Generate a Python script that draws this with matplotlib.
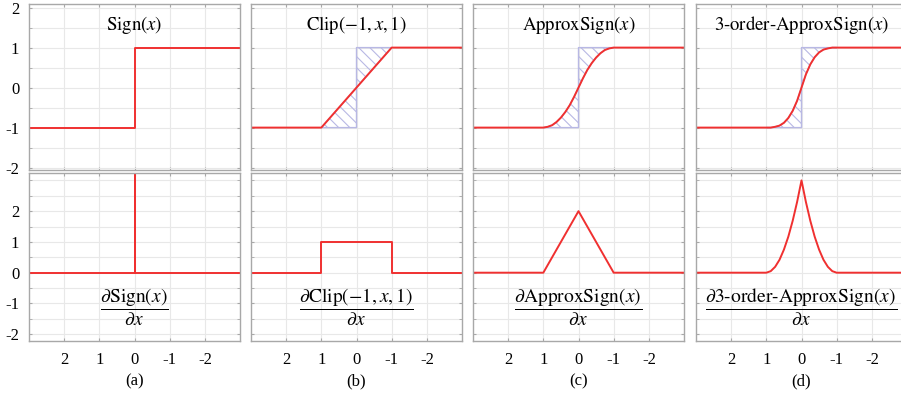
import numpy as np
import matplotlib.pyplot as plt
from matplotlib.ticker import MultipleLocator

plt.rcParams['font.family'] = ['Liberation Serif', 'DejaVu Serif']
plt.rcParams['mathtext.fontset'] = 'stix'
plt.rcParams['hatch.linewidth'] = 0.8

# tick positions and the (reversed) labels printed under them
x_ticks = [-2, -1, 0, 1, 2]
x_tick_labels = ['2', '1', '0', '-1', '-2']
y_ticks = [-2, -1, 0, 1, 2]
y_tick_labels = ['-2', '-1', '0', '1', '2']

# Sign
sign_x = [-3, 0, 0, 3]
sign_y = [-1, -1, 1, 1]
sign_dx = [-3, 0, 0, 0, 3]
sign_dy = [0, 0, 3.4, 0, 0]

# Clip(-1, x, 1)
clip_x = [-3, -1, 0, 1, 3]
clip_y = [-1, -1, 0, 1, 1]
clip_dx = [-3, -1, -1, 1, 1, 3]
clip_dy = [0, 0, 1, 1, 0, 0]

# ApproxSign / 3-order-ApproxSign, read at x steps of 1/8 between -1 and 1
smooth_x = [-3, -1, -0.875, -0.75, -0.625, -0.5, -0.375, -0.25, -0.125, 0,
            0.125, 0.25, 0.375, 0.5, 0.625, 0.75, 0.875, 1, 3]
approx_y = [-1, -1, -0.98, -0.94, -0.86, -0.75, -0.61, -0.44, -0.23, 0,
            0.23, 0.44, 0.61, 0.75, 0.86, 0.94, 0.98, 1, 1]
approx_dx = [-3, -1, 0, 1, 3]
approx_dy = [0, 0, 2, 0, 0]
order3_y = [-1, -1, -1.0, -0.98, -0.95, -0.88, -0.76, -0.58, -0.33, 0,
            0.33, 0.58, 0.76, 0.88, 0.95, 0.98, 1.0, 1, 1]
order3_dy = [0, 0, 0.05, 0.19, 0.42, 0.75, 1.17, 1.69, 2.3, 3,
             2.3, 1.69, 1.17, 0.75, 0.42, 0.19, 0.05, 0, 0]

titles = [r'$\mathrm{Sign}(x)$', r'$\mathrm{Clip}(-1,x,1)$',
          r'$\mathrm{ApproxSign}(x)$', r'$\mathrm{3\text{-}order\text{-}ApproxSign}(x)$']
deriv_labels = [r'$\dfrac{\partial\mathrm{Sign}(x)}{\partial x}$',
                r'$\dfrac{\partial\mathrm{Clip}(-1,x,1)}{\partial x}$',
                r'$\dfrac{\partial\mathrm{ApproxSign}(x)}{\partial x}$',
                r'$\dfrac{\partial\mathrm{3\text{-}order\text{-}ApproxSign}(x)}{\partial x}$']
panel_labels = ['(a)', '(b)', '(c)', '(d)']

curves = [(sign_x, sign_y), (clip_x, clip_y), (smooth_x, approx_y), (smooth_x, order3_y)]
derivs = [(sign_dx, sign_dy), (clip_dx, clip_dy), (approx_dx, approx_dy), (smooth_x, order3_dy)]

red = '#f03030'
hatch_col = '#b8b8e4'
spine_col = '#a8a8a8'

W, H = 901, 403
fig = plt.figure(figsize=(W / 100, H / 100), dpi=100)
lefts = [29, 251, 473, 696]


def style(ax, ylim, show_y, show_x):
    ax.set_xlim(-3, 3)
    ax.set_ylim(*ylim)
    ax.set_xticks(x_ticks)
    ax.set_xticklabels(x_tick_labels if show_x else [])
    ax.set_yticks(y_ticks)
    ax.set_yticklabels(y_tick_labels if show_y else [])
    ax.yaxis.set_minor_locator(MultipleLocator(0.5))
    ax.grid(True, which='both', color='#e8e8e8', lw=0.8)
    ax.set_axisbelow(True)
    ax.tick_params(which='both', direction='in', length=2.5, color=spine_col,
                   top=True, right=True, labelsize=12, pad=8)
    ax.tick_params(axis='y', pad=7)
    ax.tick_params(which='minor', length=2)
    for s in ax.spines.values():
        s.set_color(spine_col)
        s.set_linewidth(1.0)


for i in range(4):
    ax_top = fig.add_axes([lefts[i] / W, 1 - 170 / H, 211 / W, 166 / H])
    ax_bot = fig.add_axes([lefts[i] / W, 1 - 341 / H, 211 / W, 168 / H])
    style(ax_top, (-2.06, 2.09), i == 0, False)
    style(ax_bot, (-2.22, 3.24), i == 0, True)

    cx, cy = curves[i]
    if i > 0:
        cx_a = np.array(cx)
        cy_a = np.array(cy)
        left = (cx_a >= -1) & (cx_a <= 0)
        right = (cx_a >= 0) & (cx_a <= 1)
        ax_top.fill_between(cx_a[left], -1, cy_a[left], facecolor='none',
                            edgecolor=hatch_col, hatch='\\\\\\', lw=1.0)
        ax_top.fill_between(cx_a[right], cy_a[right], 1, facecolor='none',
                            edgecolor=hatch_col, hatch='\\\\\\', lw=1.0)
    ax_top.plot(cx, cy, color=red, lw=1.4)
    ax_top.text(0.5, 0.875, titles[i], transform=ax_top.transAxes,
                ha='center', va='center', fontsize=13.5)

    dx, dy = derivs[i]
    ax_bot.plot(dx, dy, color=red, lw=1.4, clip_on=True)
    ax_bot.text(0.5, 0.2, deriv_labels[i], transform=ax_bot.transAxes,
                ha='center', va='center', fontsize=14)

    fig.text((lefts[i] + 105.5) / W, 1 - 381 / H, panel_labels[i],
             ha='center', va='center', fontsize=12)

fig.savefig('out.png', dpi=100)
